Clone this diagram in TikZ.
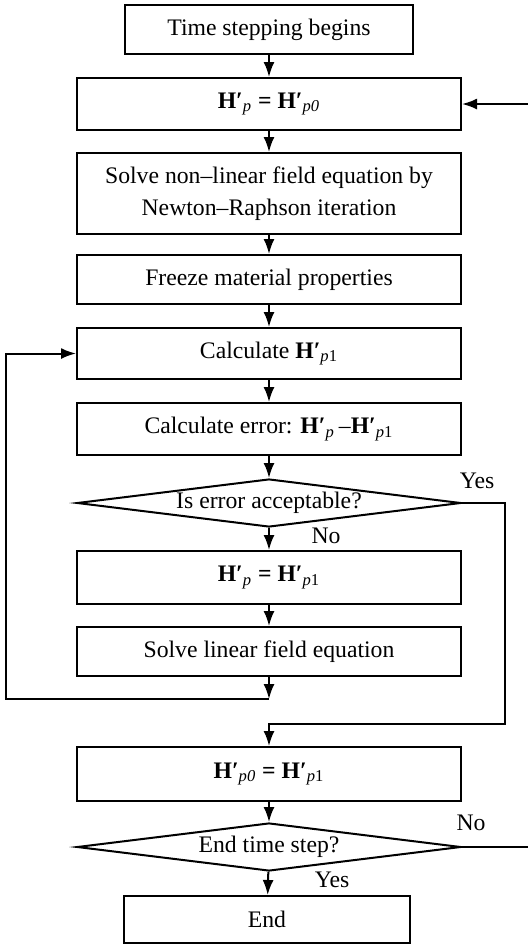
\documentclass[tikz,border=0pt]{standalone}
\usepackage{fontspec}
\setmainfont{Liberation Serif}
\usetikzlibrary{shapes.geometric,arrows.meta}
\newcommand\HHp[1]{\textbf{H′}\textsubscript{#1}}
\newcommand\fs{\fontsize{11.85}{16}\selectfont}
\begin{document}
\begin{tikzpicture}[x=0.5pt,y=-0.5pt,
  box/.style={draw,line width=1pt,minimum width=192pt,inner sep=0pt,align=center,font=\fs},
  dec/.style={draw,diamond,aspect=8,minimum width=192pt,minimum height=24pt,inner sep=0pt,line width=1pt,font=\fs},
  arr/.style={-{Latex[length=7.5pt,width=5.5pt]},line width=1pt},
  ln/.style={line width=1pt},
  lab/.style={font=\fs,inner sep=0pt}]
\useasboundingbox (0,0) rectangle (528,944);
\node[box,minimum width=144pt,minimum height=24.5pt] (start) at (269,29.5) {Time stepping begins};
\node[box,minimum height=26pt] (hp0) at (269,104) {\HHp{\textit{p}} \textbf{=} \HHp{\textit{p0}}};
\node[box,minimum height=40.5pt] (snl) at (269,193.5) {Solve non–linear field equation by\\Newton–Raphson iteration};
\node[box,minimum height=24.5pt] (frz) at (269,279.5) {Freeze material properties};
\node[box,minimum height=25.5pt] (calc) at (269,353.5) {Calculate \HHp{\textit{p}1}};
\node[box,minimum height=26pt] (err) at (269,429) {Calculate error: \HHp{\textit{p}}\,–\HHp{\textit{p}1}};
\node[dec] (d1) at (269,503) {Is error acceptable?};
\node[box,minimum height=26.5pt] (hp1) at (269,577.5) {\HHp{\textit{p}} \textbf{=} \HHp{\textit{p}1}};
\node[box,minimum height=24.5pt] (sl) at (269,651.5) {Solve linear field equation};
\node[box,minimum height=27pt] (hp0b) at (269,774) {\HHp{\textit{p0}} \textbf{=} \HHp{\textit{p}1}};
\node[dec] (d2) at (269,847) {End time step?};
\node[box,minimum width=143pt,minimum height=23.5pt] (end) at (267,919.5) {End};

\draw[arr] (start) -- (hp0);
\draw[arr] (hp0) -- (snl);
\draw[arr] (snl) -- (frz);
\draw[arr] (frz) -- (calc);
\draw[arr] (calc) -- (err);
\draw[arr] (err) -- (d1);
\draw[arr] (d1) -- (hp1);
\draw[arr] (hp1) -- (sl);
\coordinate (lb) at (269,699);
\coordinate (ll) at (6,699);
\draw[arr] (sl) -- (lb);
\draw[arr] (lb) -- (ll) |- (calc.west);
\coordinate (yr) at (505,724);
\coordinate (ym) at (269,724);
\draw[arr] (d1.east) -| (yr) -- (ym) -- (hp0b);
\draw[arr] (hp0b) -- (d2);
\draw[arr] (d2) -- (end);
\coordinate (re) at (528,847);
\draw[ln] (d2.east) -- (re);
\coordinate (rt) at (528,104);
\draw[arr] (rt) -- (hp0);

\node[lab] (yes1) at (477,481) {Yes};
\node[lab] (no1) at (326,536) {No};
\node[lab] (no2) at (471,823) {No};
\node[lab] (yes2) at (332,880) {Yes};
\end{tikzpicture}
\end{document}
